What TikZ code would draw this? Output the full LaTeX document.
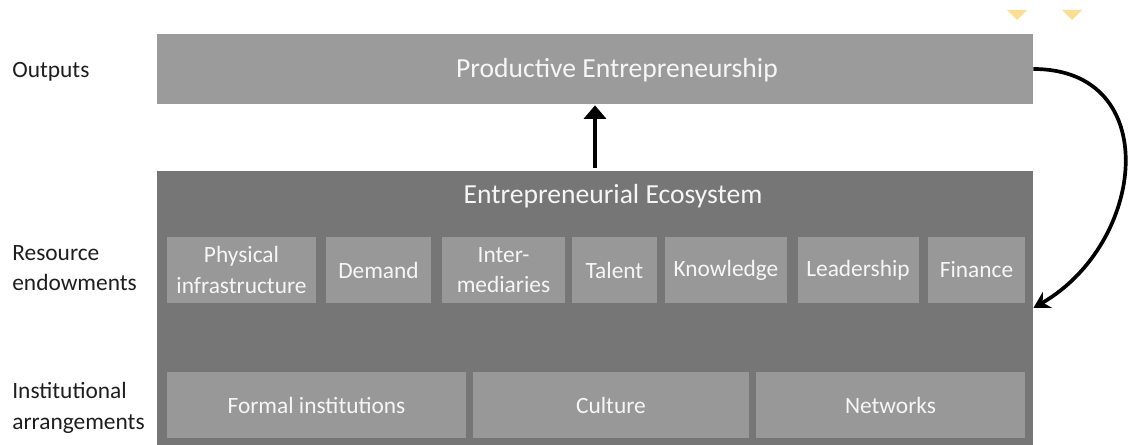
\documentclass[tikz,border=0pt]{standalone}
\usepackage{fontspec}
\setmainfont{Carlito}
\usepackage{tikz}
\usetikzlibrary{
    arrows.meta,
    positioning
}
\definecolor{ink}{RGB}{30,30,30}
\definecolor{paper}{RGB}{246,246,246}
\definecolor{outputfill}{RGB}{155,155,155}
\definecolor{ecofill}{RGB}{118,118,118}
\definecolor{itemfill}{RGB}{152,152,152}
\definecolor{marker}{RGB}{250,222,150}
\tikzset{
    line cap=round,
    line join=round,
    panel/.style={
        rectangle,
        draw=none,
        inner sep=0pt
    },
    outputbox/.style={
        panel,
        fill=outputfill,
        minimum width=17.52cm,
        minimum height=1.4cm
    },
    ecobox/.style={
        panel,
        fill=ecofill,
        minimum width=17.52cm,
        minimum height=5.48cm
    },
    itembox/.style={
        panel,
        fill=itemfill,
        minimum height=1.32cm,
        align=center,
        text=paper,
        font=\fontsize{13.3}{17.5}\selectfont
    },
    paneltitle/.style={
        font=\fontsize{15.7}{19}\selectfont,
        text=paper
    },
    rowlabel/.style={
        anchor=west,
        align=left,
        inner xsep=0pt,
        text=ink,
        font=\fontsize{13.3}{17.5}\selectfont
    },
    feed/.style={
        draw=black,
        line width=2.1pt
    }
}

\begin{document}
\begin{tikzpicture}
\useasboundingbox (0,0) rectangle (22.66,-8.9);

% Faint markers at the top edge
\fill[marker] (20.14,-0.2) -- (20.54,-0.2) -- (20.34,-0.4) -- cycle;
\fill[marker] (21.24,-0.2) -- (21.64,-0.2) -- (21.44,-0.4) -- cycle;

% Output level
\node[outputbox] (output) at (11.9,-1.38) {};
\node[paneltitle] (outtitle) at (12.34,-1.4) {Productive Entrepreneurship};

% Ecosystem block
\node[ecobox] (ecosystem) at (11.9,-6.16) {};
\node[paneltitle] (ecotitle) at (12.26,-3.92) {Entrepreneurial Ecosystem};

% Resource endowments
\node[itembox, minimum width=2.98cm] (physical) at (4.83,-5.4) {Physical\\infrastructure};
\node[itembox, minimum width=2.1cm] (demand) at (7.57,-5.4) {Demand};
\node[itembox, minimum width=2.46cm] (inter) at (10.07,-5.4) {Inter-\\mediaries};
\node[itembox, minimum width=1.7cm] (talent) at (12.29,-5.4) {Talent};
\node[itembox, minimum width=2.44cm] (knowledge) at (14.52,-5.4) {Knowledge};
\node[itembox, minimum width=2.42cm] (leadership) at (17.16,-5.4) {Leadership};
\node[itembox, minimum width=1.94cm] (finance) at (19.53,-5.4) {Finance};

% Institutional arrangements
\node[itembox, minimum width=5.98cm] (formal) at (6.33,-8.1) {Formal institutions};
\node[itembox, minimum width=5.52cm] (culture) at (12.22,-8.1) {Culture};
\node[itembox, minimum width=5.38cm] (networks) at (17.81,-8.1) {Networks};

% Row labels
\node[rowlabel] (lbloutputs) at (0.24,-1.44) {Outputs};
\node[rowlabel] (lblresources) at (0.24,-5.36) {Resource\\endowments};
\node[rowlabel] (lblinstitutions) at (0.24,-8.16) {Institutional\\arrangements};

% Arrows
\draw[feed, -{Triangle[length=0.27cm,width=0.44cm]}, shorten <=0.06cm, shorten >=0.02cm]
    (ecosystem.north) -- (output.south);
\draw[feed, -{Stealth[length=0.32cm,width=0.36cm]}]
    (output.east) to[out=0, in=30, looseness=1.4] (ecosystem.east);

\end{tikzpicture}
\end{document}
